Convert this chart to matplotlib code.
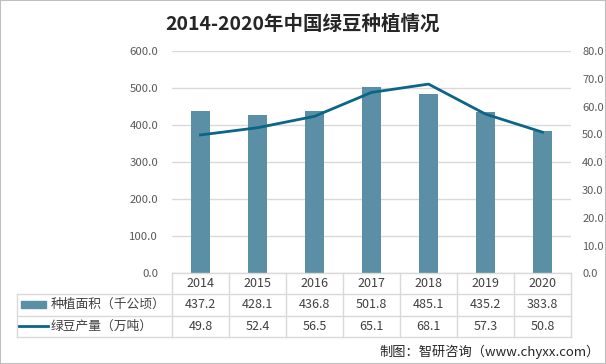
import matplotlib
matplotlib.use("Agg")
import matplotlib.pyplot as plt
from matplotlib import transforms
from matplotlib.lines import Line2D
from matplotlib.patches import Rectangle

plt.rcParams['font.family'] = ['Noto Sans CJK SC', 'DejaVu Sans']

title = "2014-2020年中国绿豆种植情况"
years = ["2014", "2015", "2016", "2017", "2018", "2019", "2020"]
area = [437.2, 428.1, 436.8, 501.8, 485.1, 435.2, 383.8]
output = [49.8, 52.4, 56.5, 65.1, 68.1, 57.3, 50.8]
area_label = "种植面积（千公顷）"
output_label = "绿豆产量（万吨）"
left_ticks = [0, 100, 200, 300, 400, 500, 600]
right_ticks = [0, 10, 20, 30, 40, 50, 60, 70, 80]
footer = "制图：智研咨询（www.chyxx.com）"

W, H = 606, 364
fig = plt.figure(figsize=(W / 100, H / 100), dpi=100)

bar_color = "#5B8FA5"
line_color = "#0A6587"
grid_color = "#D9D9D9"
text_color = "#404040"
tick_color = "#595959"

def fy(p):
    return 1 - p / H

def fx(p):
    return p / W

ax = fig.add_axes([fx(172), fy(273.4), fx(571) - fx(172), fy(51) - fy(273.4)])
x = list(range(len(years)))
ax.bar(x, area, width=0.32, color=bar_color, zorder=2)
ax.set_xlim(-0.5, len(years) - 0.5)
ax.set_ylim(0, 600)
ax.set_yticks(left_ticks)
ax.set_yticklabels([f"{v:.1f}" for v in left_ticks], fontsize=8.2, color=tick_color)
ax.set_xticks([])
ax.grid(axis='y', color=grid_color, linewidth=1, zorder=0)
ax.tick_params(axis='y', length=0, pad=10)
for s in ax.spines.values():
    s.set_visible(False)

ax2 = ax.twinx()
ax2.plot(x, output, color=line_color, linewidth=2.0, zorder=3)
ax2.set_ylim(0, 80)
ax2.set_yticks(right_ticks)
ax2.set_yticklabels([f"{v:.1f}" for v in right_ticks], fontsize=8.0, color=tick_color)
ax2.tick_params(axis='y', length=0, pad=8)
for s in ax2.spines.values():
    s.set_visible(False)

# title
fig.text(0.5, fy(24), title, ha='center', va='center', fontsize=14,
         fontweight='bold', color="#262626")

# table
bt = transforms.blended_transform_factory(ax.transData, fig.transFigure)
rows_y = [273.4, 294, 315.5, 337]
n = len(years)
fig.add_artist(Line2D([-0.5, n - 0.5], [fy(rows_y[0])] * 2, transform=bt,
                      color=grid_color, lw=1))
left_edge = fx(16.7)
for yy in rows_y[1:]:
    fig.add_artist(Line2D([left_edge, fx(571)], [fy(yy)] * 2,
                          transform=fig.transFigure, color=grid_color, lw=1))
for i in range(n + 1):
    fig.add_artist(Line2D([i - 0.5, i - 0.5], [fy(rows_y[0]), fy(rows_y[3])],
                          transform=bt, color=grid_color, lw=1))
fig.add_artist(Line2D([left_edge, left_edge], [fy(rows_y[1]), fy(rows_y[3])],
                      transform=fig.transFigure, color=grid_color, lw=1))

cy = [(rows_y[k] + rows_y[k + 1]) / 2 for k in range(3)]
for i in range(n):
    fig.text(i, fy(cy[0]), years[i], transform=bt, ha='center', va='center',
             fontsize=9, color=text_color)
    fig.text(i, fy(cy[1]), f"{area[i]:.1f}", transform=bt, ha='center',
             va='center', fontsize=9, color=text_color)
    fig.text(i, fy(cy[2]), f"{output[i]:.1f}", transform=bt, ha='center',
             va='center', fontsize=9, color=text_color)

# row labels with swatches
fig.add_artist(Rectangle((fx(21), fy(cy[1] + 3.5)), fx(46) - fx(21), fy(0) - fy(7),
                         transform=fig.transFigure, color=bar_color))
fig.add_artist(Line2D([fx(19), fx(48)], [fy(cy[2])] * 2, transform=fig.transFigure,
                      color=line_color, lw=2.0))
fig.text(fx(51), fy(cy[1]), area_label, ha='left', va='center', fontsize=9.2,
         color=text_color)
fig.text(fx(51), fy(cy[2]), output_label, ha='left', va='center', fontsize=9.2,
         color=text_color)

# footer
fig.text(fx(600), fy(352), footer, ha='right', va='center', fontsize=9.5,
         color="#262626")

# figure border
fig.add_artist(Rectangle((0, 0), 1, 1, transform=fig.transFigure, fill=False,
                         edgecolor="#BFBFBF", lw=1.5))

fig.savefig("out.png", dpi=100)
